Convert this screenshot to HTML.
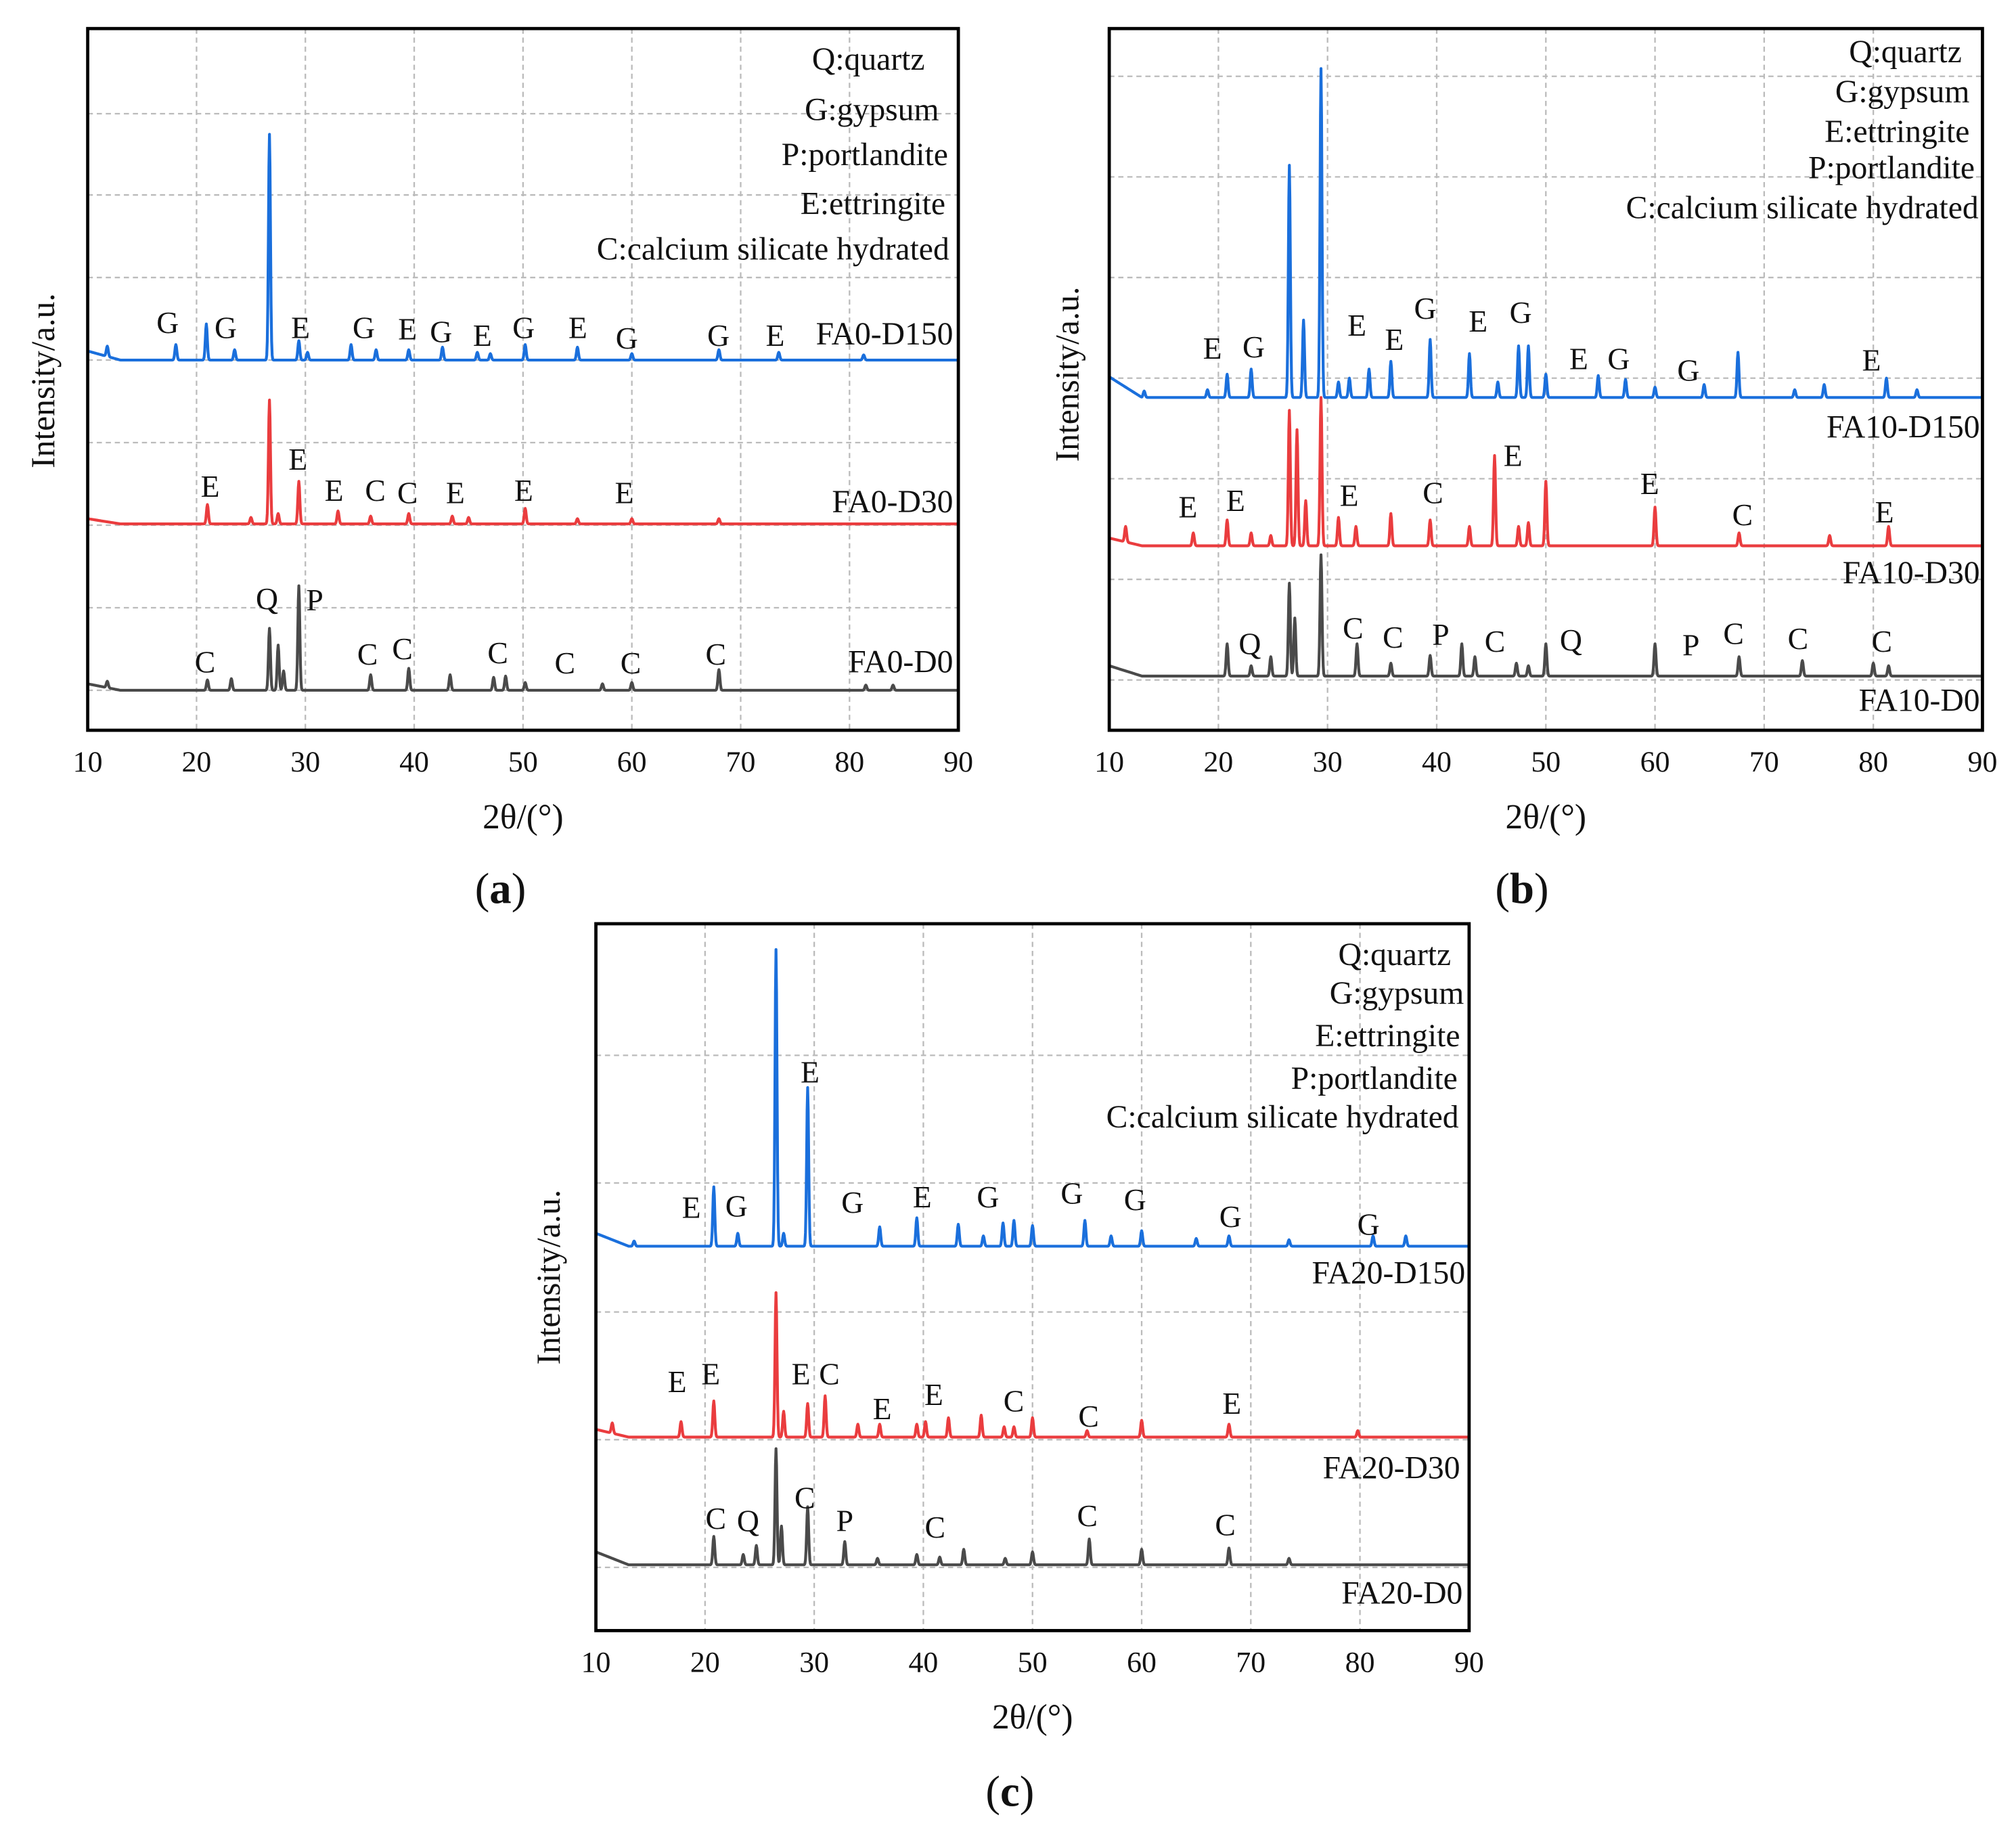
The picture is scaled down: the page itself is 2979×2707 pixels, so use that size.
<!DOCTYPE html>
<html><head><meta charset="utf-8"><style>
html,body{margin:0;padding:0;background:#fff}
svg{display:block}
text{font-family:"Liberation Serif",serif;fill:#111}
</style></head><body>
<svg id="fig" width="2979" height="2707" viewBox="0 0 1563 1420" xmlns="http://www.w3.org/2000/svg"></svg>
<script>
// ---- data (angle in degrees, intensity above baseline in a.u.) ----
const xTicks=[10,20,30,40,50,60,70,80,90];
// panel a
const aD150Base=287, aD150Peaks=[[11.8,8],[18.1,12],[20.9,28],[23.5,8],[26.7,175],[29.4,15],[30.2,6],[34.2,12],[36.5,8],[39.5,8],[42.6,10],[45.8,6],[47,5],[50.2,12],[55,10],[60,5],[68,8],[73.5,6],[81.3,4]];
const aD30Base=160, aD30Peaks=[[21,15],[25,5],[26.7,96],[27.5,8],[29.4,33],[33,10],[36,6],[39.5,8],[43.5,6],[45,5],[50.2,12],[55,4],[60,4],[68,4]];
const aD0Base=31, aD0Peaks=[[11.8,5],[21,8],[23.2,9],[26.7,48],[27.5,35],[28,15],[29.4,81],[36,12],[39.5,17],[43.3,12],[47.3,10],[48.4,11],[50.2,6],[57.3,5],[60,6],[68,16],[81.5,4],[84,4]];
// panel b
const bD150Base=258, bD150Peaks=[[13.2,5],[19,6],[20.8,18],[23,22],[26.5,180],[27.8,60],[29.4,255],[31,12],[32,15],[33.8,22],[35.8,28],[39.4,45],[43,34],[45.6,12],[47.5,40],[48.4,40],[50,18],[54.8,17],[57.3,14],[60,8],[64.5,10],[67.6,35],[72.8,6],[75.5,10],[81.2,15],[84,6]];
const bD30Base=143, bD30Peaks=[[11.5,12],[17.7,10],[20.8,20],[23,10],[24.8,8],[26.5,105],[27.2,90],[28,35],[29.4,115],[31,22],[32.6,15],[35.8,25],[39.4,20],[43,15],[45.3,70],[47.5,15],[48.4,18],[50,50],[60,30],[67.7,10],[76,8],[81.4,15]];
const bD0Base=42, bD0Peaks=[[20.8,25],[23,8],[24.8,15],[26.5,72],[27,45],[29.4,94],[32.7,25],[35.8,10],[39.4,16],[42.3,25],[43.5,15],[47.3,10],[48.4,8],[50,25],[60,25],[67.7,15],[73.5,12],[80,10],[81.4,8]];
// panel c
const cD150Base=298, cD150Peaks=[[13.5,4],[20.8,46],[23,10],[26.5,230],[27.2,10],[29.4,123],[36,15],[39.4,22],[43.2,17],[45.5,8],[47.3,18],[48.3,20],[50,16],[54.8,20],[57.2,8],[60,12],[65,6],[68,8],[73.5,5],[81.2,8],[84.2,8]];
const cD30Base=150, cD30Peaks=[[11.5,8],[17.8,12],[20.8,28],[26.5,112],[27.2,20],[29.4,26],[31,32],[34,10],[36,10],[39.4,10],[40.2,12],[42.3,15],[45.3,17],[47.4,8],[48.3,8],[50,15],[55,5],[60,13],[68,10],[79.8,5]];
const cD0Base=51, cD0Peaks=[[20.8,22],[23.5,8],[24.7,15],[26.5,90],[27,30],[29.4,45],[32.8,18],[35.8,5],[39.4,8],[41.5,6],[43.7,12],[47.5,5],[50,10],[55.2,20],[60,12],[68,13],[73.5,5]];

const NS="http://www.w3.org/2000/svg";
const svg=document.getElementById('fig');
function mk(tag,attrs,parent){const e=document.createElementNS(NS,tag);for(const k in attrs)e.setAttribute(k,attrs[k]);(parent||svg).appendChild(e);return e;}
function txt(s,x,y,size,anchor,parent,name){const t=mk('text',{x:x,y:y,'font-size':size,'text-anchor':anchor||'start'},parent);t.textContent=s;


return t;}

function panel(id,L,R,T,B,hgrid,series,legend,legendPos,ylabPos,tag,tagX,tagY,peakLabels){
  const g=mk('g',{});
  
  
  const xs=v=>L+(v-10)/80*(R-L);
  const ys=v=>B-v;
  xTicks.slice(1,-1).forEach(t=>{const l=mk('line',{x1:xs(t),x2:xs(t),y1:T,y2:B,stroke:'#bbb','stroke-width':1.2,'stroke-dasharray':'4,3'},g);
    
    });
  hgrid.forEach(y=>{const l=mk('line',{x1:L,x2:R,y1:y,y2:y,stroke:'#bbb','stroke-width':1.2,'stroke-dasharray':'4,3'},g);
    
    });
  series.forEach(s=>{
    let d='';
    for(let a=10;a<=90.001;a+=0.05){
      let v=s.base;
      if(a<13)v+=s.rise*Math.max(0,(13-a)/3);
      s.peaks.forEach(p=>{const dx=(a-p[0])/0.09;v+=p[1]*Math.exp(-0.5*dx*dx);});
      d+=(d?'L':'M')+xs(a).toFixed(2)+','+ys(v).toFixed(2);
    }
    const p=mk('path',{d:d,fill:'none',stroke:s.color,'stroke-width':2.2,'stroke-linejoin':'round'},g);
    
    
    txt(s.name,s.lx,s.ly,25,'end',g,'series-label-'+s.name.toLowerCase());
  });
  const f=mk('rect',{x:L,y:T,width:R-L,height:B-T,fill:'none',stroke:'#000','stroke-width':2.5},g);
  
  
  xTicks.forEach(t=>{txt(String(t),xs(t),B+32,23,'middle',g,'x-tick-label');});
  txt('2θ/(°)',(L+R)/2,B+76,27,'middle',g,'x-axis-title');
  const yl=txt('Intensity/a.u.',0,0,26,'middle',g,'y-axis-title');
  yl.setAttribute('transform','translate('+ylabPos[0]+','+ylabPos[1]+') rotate(-90)');
  legend.forEach((s,i)=>{txt(s,legendPos[i][0],legendPos[i][1],25,'end',g,'legend-entry');});
  peakLabels.forEach(p=>{txt(p[0],p[1],p[2],24,'middle',g,'peak-label');});
  const tg=mk('text',{x:tagX,y:tagY,'font-size':34,'text-anchor':'middle'},g);
  tg.innerHTML='(<tspan font-weight="bold">'+tag+'</tspan>)';
  
  
}
const leg=['Q:quartz','G:gypsum','P:portlandite','E:ettringite','C:calcium silicate hydrated'];
panel('a',68,743,22,566,[88,151,215,279,343,407,471,535],[
 {name:'FA0-D150',base:aD150Base,peaks:aD150Peaks,color:'#1a6fdc',rise:7,lx:739,ly:267},
 {name:'FA0-D30',base:aD30Base,peaks:aD30Peaks,color:'#ea3c3e',rise:4,lx:739,ly:397},
 {name:'FA0-D0',base:aD0Base,peaks:aD0Peaks,color:'#4a4a4a',rise:5,lx:739,ly:521}],
 leg,[[717,54],[728,93],[735,128],[733,166],[736,201]],[42,295],'a',388,700,
 [['G',130,258],['G',175,262],['E',233,262],['G',282,262],['E',316,263],['G',342,265],['E',374,268],['G',406,262],['E',448,262],['G',486,270],['G',557,268],['E',601,268],
  ['E',163,385],['E',231,364],['E',259,388],['C',291,388],['C',316,390],['E',353,390],['E',406,388],['E',484,390],
  ['Q',207,472],['P',244,473],['C',159,521],['C',285,515],['C',312,511],['C',386,514],['C',438,522],['C',489,522],['C',555,515]]);
const leg2=['Q:quartz','G:gypsum','E:ettringite','P:portlandite','C:calcium silicate hydrated'];
panel('b',860,1537,22,566,[59,137,215,293,371,449,527],[
 {name:'FA10-D150',base:bD150Base,peaks:bD150Peaks,color:'#1a6fdc',rise:16,lx:1535,ly:339},
 {name:'FA10-D30',base:bD30Base,peaks:bD30Peaks,color:'#ea3c3e',rise:6,lx:1535,ly:452},
 {name:'FA10-D0',base:bD0Base,peaks:bD0Peaks,color:'#4a4a4a',rise:8,lx:1535,ly:551}],
 leg2,[[1521,48],[1527,79],[1527,110],[1531,138],[1534,169]],[836,290],'b',1180,700,
 [['E',940,278],['G',972,277],['E',1052,260],['E',1081,271],['G',1105,247],['E',1146,257],['G',1179,250],['E',1224,286],['G',1255,286],['G',1309,295],['E',1451,287],
  ['E',921,401],['E',958,396],['E',1046,392],['C',1111,390],['E',1173,361],['E',1279,383],['C',1351,407],['E',1461,405],
  ['Q',969,507],['C',1049,495],['C',1080,502],['P',1117,500],['C',1159,505],['Q',1218,504],['P',1311,508],['C',1344,499],['C',1394,503],['C',1459,505]]);
panel('c',462,1139,716,1264,[818,917,1017,1116,1215],[
 {name:'FA20-D150',base:cD150Base,peaks:cD150Peaks,color:'#1a6fdc',rise:10,lx:1136,ly:995},
 {name:'FA20-D30',base:cD30Base,peaks:cD30Peaks,color:'#ea3c3e',rise:6,lx:1132,ly:1146},
 {name:'FA20-D0',base:cD0Base,peaks:cD0Peaks,color:'#4a4a4a',rise:10,lx:1134,ly:1243}],
 leg2,[[1125,748],[1135,778],[1132,811],[1130,844],[1131,874]],[434,990],'c',783,1400,
 [['E',536,944],['G',571,943],['E',628,839],['G',661,940],['E',715,936],['G',766,936],['G',831,933],['G',880,938],['G',954,951],['G',1061,957],
  ['E',525,1079],['E',551,1073],['E',621,1073],['C',643,1073],['E',684,1100],['E',724,1089],['C',786,1094],['C',844,1106],['E',955,1096],
  ['C',555,1185],['Q',580,1187],['C',624,1169],['P',655,1187],['C',725,1192],['C',843,1183],['C',950,1190]]);
</script>
</body></html>
